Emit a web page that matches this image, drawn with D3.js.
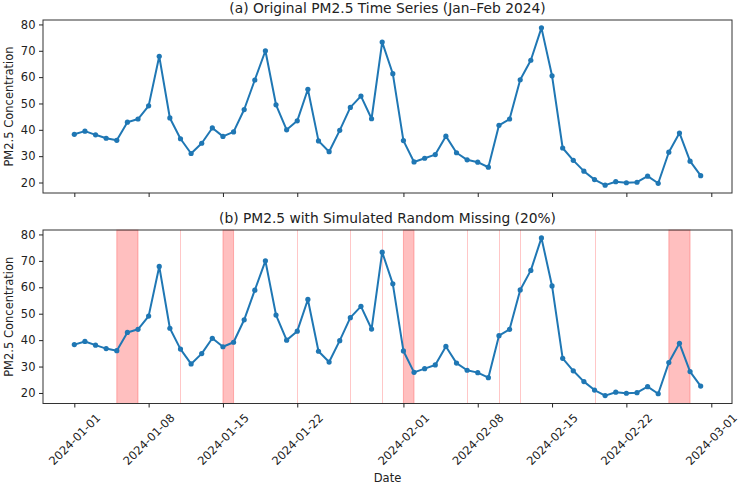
<!DOCTYPE html>
<html>
<head>
<meta charset="utf-8">
<script src="https://cdn.jsdelivr.net/npm/d3@7"></script>
<style>
  body { margin: 0; background: #fff; }
  text { font-family: "DejaVu Sans", sans-serif; fill: #222; }
</style>
</head>
<body>
<svg id="chart" width="740" height="486"></svg>
<script>
// Daily dates, Jan 1 - Feb 29 2024
const dates = [
  "2024-01-01","2024-01-02","2024-01-03","2024-01-04","2024-01-05","2024-01-06","2024-01-07","2024-01-08","2024-01-09","2024-01-10",
  "2024-01-11","2024-01-12","2024-01-13","2024-01-14","2024-01-15","2024-01-16","2024-01-17","2024-01-18","2024-01-19","2024-01-20",
  "2024-01-21","2024-01-22","2024-01-23","2024-01-24","2024-01-25","2024-01-26","2024-01-27","2024-01-28","2024-01-29","2024-01-30",
  "2024-01-31","2024-02-01","2024-02-02","2024-02-03","2024-02-04","2024-02-05","2024-02-06","2024-02-07","2024-02-08","2024-02-09",
  "2024-02-10","2024-02-11","2024-02-12","2024-02-13","2024-02-14","2024-02-15","2024-02-16","2024-02-17","2024-02-18","2024-02-19",
  "2024-02-20","2024-02-21","2024-02-22","2024-02-23","2024-02-24","2024-02-25","2024-02-26","2024-02-27","2024-02-28","2024-02-29"
];

// PM2.5 values
const pm25 = [
  38.3, 39.5, 38.1, 36.8, 36.0, 42.9, 44.1, 49.1, 67.9, 44.5,
  36.6, 31.0, 34.9, 40.7, 37.5, 39.2, 47.7, 58.9, 70.0, 49.5,
  40.0, 43.4, 55.4, 35.8, 31.7, 39.8, 48.5, 52.8, 44.2, 73.3,
  61.3, 35.9, 27.8, 29.2, 30.6, 37.6, 31.3, 28.6, 27.7, 25.8,
  41.7, 44.1, 59.0, 66.4, 78.7, 60.5, 33.1, 28.4, 24.3, 21.1,
  19.0, 20.3, 19.9, 20.1, 22.4, 19.7, 31.5, 38.8, 28.1, 22.6
];

// runs of missing days (start, end) shaded in panel (b)
const missingRuns = [
  ["2024-01-05", "2024-01-07"],
  ["2024-01-11", "2024-01-11"],
  ["2024-01-15", "2024-01-16"],
  ["2024-01-22", "2024-01-22"],
  ["2024-01-27", "2024-01-27"],
  ["2024-01-30", "2024-01-30"],
  ["2024-02-01", "2024-02-02"],
  ["2024-02-07", "2024-02-07"],
  ["2024-02-10", "2024-02-10"],
  ["2024-02-12", "2024-02-12"],
  ["2024-02-19", "2024-02-19"],
  ["2024-02-26", "2024-02-28"]
];

const xTickDates = ["2024-01-01","2024-01-08","2024-01-15","2024-01-22","2024-02-01","2024-02-08","2024-02-15","2024-02-22","2024-03-01"];
const yTicks = [20, 30, 40, 50, 60, 70, 80];
const titles = [
  "(a) Original PM2.5 Time Series (Jan\u2013Feb 2024)",
  "(b) PM2.5 with Simulated Random Missing (20%)"
];

const parseDate = d3.utcParse("%Y-%m-%d");
const formatDate = d3.utcFormat("%Y-%m-%d");
const data = dates.map((d, i) => ({ date: parseDate(d), value: pm25[i] }));

const svg = d3.select("#chart");
const left = 43, right = 732;
const panels = [
  { top: 20, bottom: 193, title: titles[0], shade: false, labels: false },
  { top: 230, bottom: 403.5, title: titles[1], shade: true, labels: true }
];
const fontSize = 11.5;

// matplotlib style 5% margins
const t0 = data[0].date, t1 = data[data.length - 1].date;
const tPad = (t1 - t0) * 0.05;
const xScale = d3.scaleUtc()
  .domain([new Date(+t0 - tPad), new Date(+t1 + tPad)])
  .range([left, right]);

const vMin = d3.min(pm25), vMax = d3.max(pm25);
const vPad = (vMax - vMin) * 0.05;

panels.forEach(function(p) {
  const yScale = d3.scaleLinear()
    .domain([vMin - vPad, vMax + vPad])
    .range([p.bottom, p.top]);

  const g = svg.append("g");

  // shaded missing spans
  if (p.shade) {
    const spans = g.selectAll("g.span")
      .data(missingRuns)
      .enter().append("g")
      .attr("class", "span");

    spans.filter(d => d[0] !== d[1]).append("rect")
      .attr("x", d => xScale(parseDate(d[0])))
      .attr("width", d => xScale(parseDate(d[1])) - xScale(parseDate(d[0])))
      .attr("y", p.top)
      .attr("height", p.bottom - p.top)
      .attr("fill", "red")
      .attr("fill-opacity", 0.25)
      .attr("stroke", "red")
      .attr("stroke-opacity", 0.25)
      .attr("stroke-width", 1);

    // single missing day -> zero-width span, only its edge shows
    spans.filter(d => d[0] === d[1]).append("line")
      .attr("x1", d => Math.round(xScale(parseDate(d[0]))) + 0.5)
      .attr("x2", d => Math.round(xScale(parseDate(d[0]))) + 0.5)
      .attr("y1", p.top)
      .attr("y2", p.bottom)
      .attr("stroke", "red")
      .attr("stroke-opacity", 0.22)
      .attr("stroke-width", 1);
  }

  // line + markers
  const line = d3.line()
    .x(d => xScale(d.date))
    .y(d => yScale(d.value));

  g.append("path")
    .datum(data)
    .attr("fill", "none")
    .attr("stroke", "#1f77b4")
    .attr("stroke-width", 2)
    .attr("stroke-linejoin", "round")
    .attr("d", line);

  g.selectAll("circle")
    .data(data)
    .enter().append("circle")
    .attr("cx", d => xScale(d.date))
    .attr("cy", d => yScale(d.value))
    .attr("r", 2.6)
    .attr("fill", "#1f77b4");

  // frame
  g.append("rect")
    .attr("x", left)
    .attr("y", p.top)
    .attr("width", right - left)
    .attr("height", p.bottom - p.top)
    .attr("fill", "none")
    .attr("stroke", "#333")
    .attr("stroke-width", 1);

  // y axis
  const yAxis = g.append("g")
    .attr("transform", "translate(" + left + ",0)")
    .call(d3.axisLeft(yScale).tickValues(yTicks).tickSize(4).tickPadding(3.5));
  yAxis.select(".domain").remove();
  yAxis.selectAll("line").attr("stroke", "#222");
  yAxis.selectAll("text")
    .style("font-size", fontSize + "px")
    .style("font-family", "DejaVu Sans, sans-serif")
    .attr("fill", "#222");

  // x axis
  const xAxis = g.append("g")
    .attr("transform", "translate(0," + p.bottom + ")")
    .call(d3.axisBottom(xScale)
      .tickValues(xTickDates.map(parseDate))
      .tickSize(4)
      .tickFormat(p.labels ? formatDate : ""));
  xAxis.select(".domain").remove();
  xAxis.selectAll("line").attr("stroke", "#222");
  xAxis.selectAll("text")
    .style("font-size", fontSize + "px")
    .style("font-family", "DejaVu Sans, sans-serif")
    .attr("fill", "#222");

  if (p.labels) {
    // rotate 45 deg, centred under the tick like matplotlib
    xAxis.selectAll("text")
      .attr("y", 0)
      .attr("dy", "0.32em")
      .attr("text-anchor", "middle")
      .each(function() {
        const bb = this.getBBox();
        const side = (bb.width + bb.height) * Math.SQRT1_2;
        d3.select(this).attr("transform", "translate(0," + (7.5 + side / 2) + ") rotate(-45)");
      });
  }

  // title
  svg.append("text")
    .attr("x", (left + right) / 2)
    .attr("y", p.top - 7)
    .attr("text-anchor", "middle")
    .style("font-size", "13.8px")
    .text(p.title);

  // y label
  svg.append("text")
    .attr("transform", "translate(13," + (p.top + p.bottom) / 2 + ") rotate(-90)")
    .attr("text-anchor", "middle")
    .style("font-size", fontSize + "px")
    .text("PM2.5 Concentration");
});

// x label
svg.append("text")
  .attr("x", (left + right) / 2)
  .attr("y", 482)
  .attr("text-anchor", "middle")
  .style("font-size", fontSize + "px")
  .text("Date");
</script>
</body>
</html>
